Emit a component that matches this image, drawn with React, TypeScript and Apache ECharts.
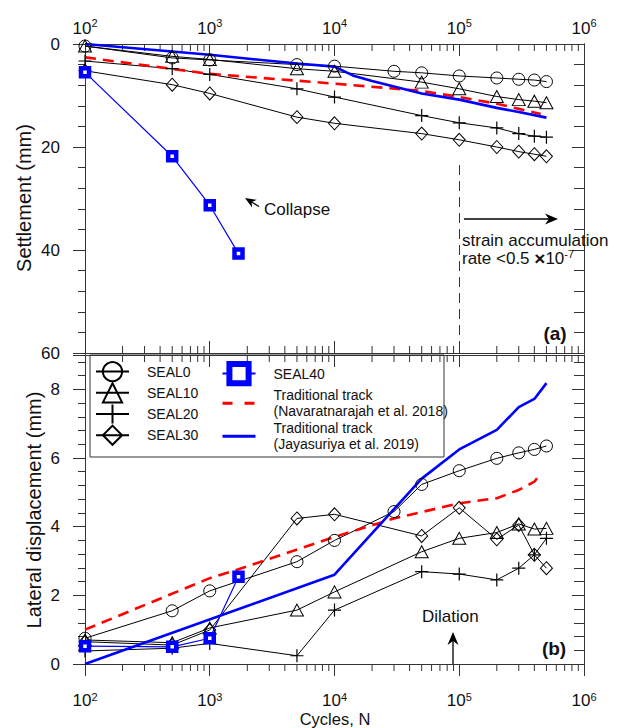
import React, { useEffect, useRef } from 'react';
import * as echarts from 'echarts';

const FONT = '"Liberation Sans", Arial, sans-serif';
const AXIS = '#333333';
const TXT = '#111111';
const BLUE = '#0000ff';
const RED = '#ff0000';

// ---- Cycles N (x values) ----
const N_SEAL0 = [100, 500, 1000, 5000, 10000, 30000, 50000, 100000, 200000, 300000, 400000, 500000];
const N_SEAL = [100, 500, 1000, 5000, 10000, 50000, 100000, 200000, 300000, 400000, 500000];
const N_SEAL40 = [100, 500, 1000, 1700];
const N_NAV_SETTLE = [100, 1000, 10000, 50000, 100000, 200000, 300000, 450000];
const N_JAY_SETTLE = [100, 1000, 5000, 10000, 14000, 20000, 50000, 100000, 200000, 300000, 500000];
const N_NAV_LAT = [100, 1000, 1700, 10000, 30000, 100000, 200000, 300000, 400000, 450000];
const N_JAY_LAT = [100, 10000, 50000, 100000, 200000, 300000, 400000, 500000];

// ---- (a) Settlement (mm) ----
const SEAL0_SETTLE = [0.4, 2.7, 3.1, 4.0, 4.3, 5.3, 5.6, 6.2, 6.6, 6.85, 7.0, 7.3];
const SEAL10_SETTLE = [0.4, 2.4, 3.0, 4.8, 5.3, 7.4, 8.7, 10.2, 10.8, 11.1, 11.4];
const SEAL20_SETTLE = [3.3, 4.8, 5.9, 8.7, 10.3, 13.9, 15.3, 16.3, 17.4, 17.9, 18.1];
const SEAL30_SETTLE = [5.2, 7.9, 9.6, 14.2, 15.4, 17.4, 18.6, 20.0, 20.9, 21.4, 21.8];
const SEAL40_SETTLE = [5.5, 21.8, 31.3, 40.7];
const NAV_SETTLE = [2.6, 5.8, 7.7, 9.1, 10.3, 11.6, 12.6, 13.6];
const JAY_SETTLE = [0, 2.1, 3.8, 4.4, 6.1, 7.2, 9.6, 10.8, 12.4, 13.2, 14.3];

// ---- (b) Lateral displacement (mm) ----
const SEAL0_LAT = [0.75, 1.55, 2.13, 2.98, 3.6, 4.44, 5.23, 5.63, 5.99, 6.15, 6.25, 6.35];
const SEAL10_LAT = [0.7, 0.62, 1.05, 1.57, 2.1, 3.27, 3.66, 3.83, 4.08, 3.93, 3.95];
const SEAL20_LAT = [0.38, 0.46, 0.6, 0.24, 1.57, 2.69, 2.62, 2.45, 2.79, 3.18, 3.66];
const SEAL30_LAT = [0.65, 0.55, 0.99, 4.24, 4.36, 3.73, 4.55, 3.63, 4.05, 3.18, 2.79];
const SEAL40_LAT = [0.52, 0.5, 0.75, 2.54];
const NAV_LAT = [1.0, 2.5, 2.76, 3.7, 4.24, 4.68, 4.83, 5.07, 5.31, 5.55];
const JAY_LAT = [0, 2.6, 5.4, 6.25, 6.82, 7.48, 7.72, 8.18];

// ---- axes ----
const X_MIN = 100;
const X_MAX = 1000000;
const DECADES = [100, 1000, 10000, 100000];
const MULTIPLIERS = [2, 3, 4, 5, 6, 7, 8, 9];
const SETTLE_RANGE = [0, 60];
const SETTLE_MAJOR = 20;
const SETTLE_MINOR = 4;
const LAT_RANGE = [0, 9];
const LAT_MAJOR = 2;
const LAT_MINOR = 0.4;
const DASH_N = 100000;
const DASH_FROM = 23.5;

const NAME0 = 'SEAL0';
const NAME10 = 'SEAL10';
const NAME20 = 'SEAL20';
const NAME30 = 'SEAL30';
const NAME40 = 'SEAL40';
const NAME_NAV = 'Traditional track (Navaratnarajah et al. 2018)';
const NAME_JAY = 'Traditional track (Jayasuriya et al. 2019)';

const X_MINOR: number[] = [];
DECADES.forEach((d) => MULTIPLIERS.forEach((m) => X_MINOR.push(d * m)));

const zip = (xs: number[], ys: number[]) => xs.map((x, i) => [x, ys[i]]);

const PLUS = 'path://M0,6L12,6M6,0L6,12';

const blackSeries = (name: string, symbol: string, size: any) => ({
  name,
  type: 'line',
  symbol,
  symbolSize: size,
  lineStyle: { color: '#000', width: 1 },
  itemStyle: { color: 'rgba(0,0,0,0)', borderColor: '#000', borderWidth: 1 },
  emphasis: { disabled: true },
});

const makeRich = (lh: number) => ({
  b: { fontSize: 17, fontFamily: FONT, color: TXT, lineHeight: lh },
  s: { fontSize: 11, fontFamily: FONT, color: TXT, verticalAlign: 'top', lineHeight: 13 },
});
const supFormatter = (v: number) => `{b|10}{s|${Math.round(Math.log10(v))}}`;

function xAxis(grid: number, position: string, showLabel: boolean, inside: boolean, margin: number, lh = 22) {
  return {
    type: 'log',
    logBase: 10,
    gridIndex: grid,
    position,
    min: X_MIN,
    max: X_MAX,
    splitNumber: 4,
    axisLine: { show: true, onZero: false, lineStyle: { color: AXIS, width: 1 } },
    axisTick: { show: true, inside, length: 12, lineStyle: { color: AXIS, width: 1 } },
    axisLabel: showLabel
      ? { show: true, margin, formatter: supFormatter, rich: makeRich(lh) }
      : { show: false },
    splitLine: { show: false },
    minorTick: { show: false },
  };
}

function yAxis(
  grid: number,
  position: string,
  range: number[],
  interval: number,
  inverse: boolean,
  tickLen: number,
  inside: boolean,
  labels: boolean,
  labelEvery?: number
) {
  return {
    type: 'value',
    gridIndex: grid,
    position,
    min: range[0],
    max: range[1],
    interval,
    inverse,
    axisLine: { show: true, onZero: false, lineStyle: { color: AXIS, width: 1 } },
    axisTick: { show: true, inside, length: tickLen, lineStyle: { color: AXIS, width: 1 } },
    axisLabel: labels
      ? {
          show: true,
          margin: 25,
          fontSize: 17,
          fontFamily: FONT,
          color: TXT,
          formatter: (v: number) =>
            labelEvery && Math.abs(v / labelEvery - Math.round(v / labelEvery)) > 1e-6 ? '' : String(v),
        }
      : { show: false },
    splitLine: { show: false },
  };
}

function minorTickSeries(xIdx: number, yIdx: number, topVal: number, botVal: number, botDir: number) {
  return {
    type: 'custom',
    xAxisIndex: xIdx,
    yAxisIndex: yIdx,
    silent: true,
    clip: false,
    z: 1,
    data: X_MINOR.map((n) => [n, topVal]),
    renderItem: (params: any, api: any) => {
      const n = api.value(0);
      const t = api.coord([n, topVal]);
      const b = api.coord([n, botVal]);
      const st = { stroke: AXIS, lineWidth: 1 };
      return {
        type: 'group',
        children: [
          { type: 'line', shape: { x1: t[0], y1: t[1], x2: t[0], y2: t[1] + 7 }, style: st },
          { type: 'line', shape: { x1: b[0], y1: b[1], x2: b[0], y2: b[1] + 7 * botDir }, style: st },
        ],
      };
    },
  };
}

function panelSeries(xIdx: number, yIdx: number, top: boolean) {
  const s0 = top ? SEAL0_SETTLE : SEAL0_LAT;
  const s10 = top ? SEAL10_SETTLE : SEAL10_LAT;
  const s20 = top ? SEAL20_SETTLE : SEAL20_LAT;
  const s30 = top ? SEAL30_SETTLE : SEAL30_LAT;
  const s40 = top ? SEAL40_SETTLE : SEAL40_LAT;
  const list: any[] = [
    { ...blackSeries(NAME0, 'circle', 12), data: zip(N_SEAL0, s0) },
    { ...blackSeries(NAME10, 'triangle', [13, 12]), data: zip(N_SEAL, s10) },
    {
      ...blackSeries(NAME20, PLUS, 13),
      itemStyle: { color: 'rgba(0,0,0,0)', borderColor: '#000', borderWidth: 1.2 },
      data: zip(N_SEAL, s20),
    },
    { ...blackSeries(NAME30, 'diamond', [12, 13]), data: zip(N_SEAL, s30) },
    {
      name: NAME40,
      type: 'line',
      symbol: 'rect',
      symbolSize: 8,
      lineStyle: { color: BLUE, width: 1.2 },
      itemStyle: { color: '#ffffff', borderColor: BLUE, borderWidth: 4.5 },
      emphasis: { disabled: true },
      z: 4,
      data: zip(N_SEAL40, s40),
    },
    {
      name: NAME_NAV,
      type: 'line',
      symbol: 'none',
      lineStyle: { color: RED, width: 2.6, type: [11, 7] },
      itemStyle: { color: RED },
      emphasis: { disabled: true },
      z: 3,
      data: top ? zip(N_NAV_SETTLE, NAV_SETTLE) : zip(N_NAV_LAT, NAV_LAT),
    },
    {
      name: NAME_JAY,
      type: 'line',
      symbol: 'none',
      lineStyle: { color: BLUE, width: 2.6 },
      itemStyle: { color: BLUE },
      emphasis: { disabled: true },
      z: 3,
      data: top ? zip(N_JAY_SETTLE, JAY_SETTLE) : zip(N_JAY_LAT, JAY_LAT),
    },
  ];
  list.forEach((s) => {
    s.xAxisIndex = xIdx;
    s.yAxisIndex = yIdx;
  });
  if (top) {
    list[6].markLine = {
      silent: true,
      symbol: 'none',
      label: { show: false },
      lineStyle: { color: AXIS, width: 1, type: [10, 6] },
      data: [[{ coord: [DASH_N, DASH_FROM] }, { coord: [DASH_N, SETTLE_RANGE[1]] }]],
    };
  }
  return list;
}

function arrowHead(tip: number[], dir: number[], len: number, half: number) {
  const [ux, uy] = dir;
  const bx = tip[0] - ux * len;
  const by = tip[1] - uy * len;
  const px = -uy;
  const py = ux;
  const nx = tip[0] - ux * len * 0.7;
  const ny = tip[1] - uy * len * 0.7;
  return {
    type: 'polygon',
    shape: {
      points: [tip, [bx + px * half, by + py * half], [nx, ny], [bx - px * half, by - py * half]],
    },
    style: { fill: '#000' },
    z: 20,
  };
}

const text = (x: number, y: number, t: string, size: number, extra: any = {}) => ({
  type: 'text',
  x,
  y,
  z: 20,
  style: {
    text: t,
    fontSize: size,
    fontFamily: FONT,
    fill: TXT,
    align: 'left',
    verticalAlign: 'middle',
    ...extra,
  },
});

export default function App() {
  const ref = useRef<HTMLDivElement>(null);
  useEffect(() => {
    if (!ref.current) return;
    const chart = echarts.init(ref.current, undefined, { renderer: 'svg' });
    const cu = Math.hypot(14, 8.5);
    const hiddenSymbol = { opacity: 0, color: 'rgba(0,0,0,0)', borderWidth: 0 };
    const option: any = {
      animation: false,
      backgroundColor: '#ffffff',
      textStyle: { fontFamily: FONT },
      grid: [
        { left: 85, right: 38, top: 44, height: 309 },
        { left: 85, right: 38, top: 355, height: 309 },
      ],
      xAxis: [
        xAxis(0, 'top', true, true, 5),
        xAxis(0, 'bottom', false, true, 0),
        xAxis(1, 'top', false, true, 0),
        xAxis(1, 'bottom', true, false, 27, 18),
      ],
      yAxis: [
        yAxis(0, 'left', SETTLE_RANGE, SETTLE_MAJOR, true, 12, false, true),
        yAxis(0, 'left', SETTLE_RANGE, SETTLE_MINOR, true, 7, false, false),
        yAxis(0, 'right', SETTLE_RANGE, SETTLE_MAJOR, true, 12, true, false),
        yAxis(0, 'right', SETTLE_RANGE, SETTLE_MINOR, true, 10, true, false),
        yAxis(1, 'left', LAT_RANGE, LAT_MAJOR, false, 12, false, true, LAT_MAJOR),
        yAxis(1, 'left', LAT_RANGE, LAT_MINOR, false, 7, false, false),
        yAxis(1, 'right', LAT_RANGE, LAT_MAJOR, false, 12, true, false),
        yAxis(1, 'right', LAT_RANGE, LAT_MINOR, false, 10, true, false),
      ],
      legend: [
        {
          left: 95,
          top: 361,
          orient: 'vertical',
          itemGap: 0,
          itemWidth: 33,
          itemHeight: 24,
          padding: 0,
          selectedMode: false,
          data: [NAME0, NAME10, NAME20, NAME30],
          textStyle: { fontSize: 14, fontFamily: FONT, color: TXT, padding: [0, 0, 0, 13] },
        },
        {
          left: 221,
          top: 361,
          orient: 'vertical',
          itemGap: 1,
          itemWidth: 33,
          itemHeight: 24,
          padding: 0,
          selectedMode: false,
          data: [
            { name: NAME40, itemStyle: { borderWidth: 6, borderColor: BLUE, color: '#ffffff' } },
            { name: NAME_NAV, itemStyle: hiddenSymbol, lineStyle: { width: 3, type: [10, 12] } },
            { name: NAME_JAY, itemStyle: hiddenSymbol, lineStyle: { width: 3 } },
          ],
          formatter: (n: string) => n.replace(' (', '\n('),
          textStyle: { fontSize: 14, lineHeight: 16, fontFamily: FONT, color: TXT, padding: [0, 0, 0, 13] },
        },
      ],
      series: [
        minorTickSeries(0, 0, SETTLE_RANGE[0], SETTLE_RANGE[1], -1),
        minorTickSeries(3, 4, LAT_RANGE[1], LAT_RANGE[0], 1),
        ...panelSeries(0, 0, true),
        ...panelSeries(3, 4, false),
      ],
      graphic: [
        {
          type: 'rect',
          z: 10,
          shape: { x: 90, y: 355, width: 354, height: 102 },
          style: { fill: 'none', stroke: AXIS, lineWidth: 1 },
        },
        {
          type: 'text',
          x: 24,
          y: 198,
          rotation: Math.PI / 2,
          style: { text: 'Settlement (mm)', fontSize: 20, fontFamily: FONT, fill: TXT, align: 'center', verticalAlign: 'middle' },
        },
        {
          type: 'text',
          x: 34,
          y: 510,
          rotation: Math.PI / 2,
          style: {
            text: 'Lateral displacement (mm)',
            fontSize: 20,
            fontFamily: FONT,
            fill: TXT,
            align: 'center',
            verticalAlign: 'middle',
          },
        },
        text(335, 718.5, 'Cycles, N', 16.5, { align: 'center', lineHeight: 18 }),
        text(264, 209, 'Collapse', 17),
        { type: 'line', z: 20, shape: { x1: 259, y1: 206.5, x2: 250, y2: 201 }, style: { stroke: '#000', lineWidth: 1.3 } },
        arrowHead([245, 198], [-14 / cu, -8.5 / cu], 11, 4.5),
        { type: 'line', z: 20, shape: { x1: 464, y1: 219, x2: 550, y2: 219 }, style: { stroke: '#000', lineWidth: 1.3 } },
        arrowHead([558, 219], [1, 0], 13, 5.5),
        text(462, 240, 'strain accumulation', 17),
        text(462, 258, 'rate <0.5 {x|×}10{s|-7}', 17, {
          rich: {
            x: { fontSize: 19, fontWeight: 'bold', fontFamily: FONT, fill: TXT },
            s: { fontSize: 11, fontFamily: FONT, fill: TXT, verticalAlign: 'top' },
          },
        }),
        text(555, 333, '(a)', 19, { align: 'center', fontWeight: 'bold' }),
        text(554, 648, '(b)', 19, { align: 'center', fontWeight: 'bold' }),
        text(422, 616, 'Dilation', 17),
        { type: 'line', z: 20, shape: { x1: 453, y1: 664, x2: 453, y2: 640 }, style: { stroke: '#000', lineWidth: 1.3 } },
        arrowHead([453, 632], [0, -1], 13, 5.5),
      ],
    };
    chart.setOption(option);
    return () => chart.dispose();
  }, []);
  return (
    <div
      ref={ref}
      style={{ position: 'fixed', left: 0, top: 0, width: 622, height: 728, background: '#fff' }}
    />
  );
}
